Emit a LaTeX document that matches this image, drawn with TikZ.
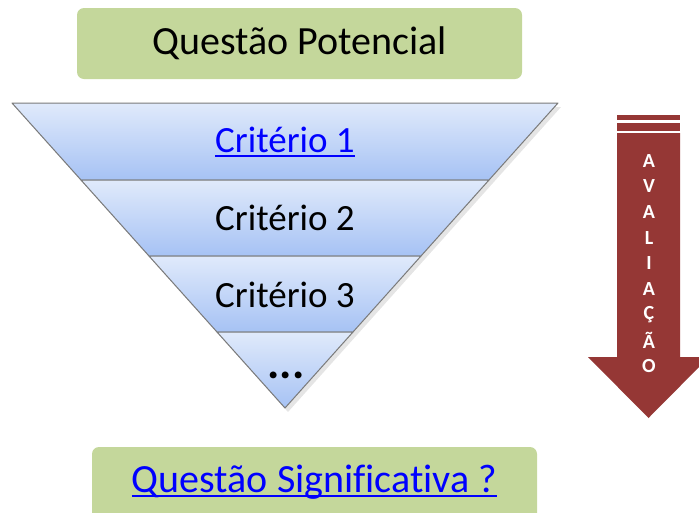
\documentclass[tikz,border=0pt]{standalone}
\usepackage{fontspec}
\setmainfont{Carlito}[Ligatures=NoCommon]
\definecolor{boxgreen}{HTML}{C4D79B}
\definecolor{bandtop}{HTML}{E0EAFB}
\definecolor{bandbot}{HTML}{A6C2F4}
\definecolor{bandline}{HTML}{7A7A7A}
\definecolor{linkblue}{HTML}{0000FF}
\definecolor{arrowred}{HTML}{953735}
\newcommand\myul[1]{\leavevmode\setbox0=\hbox{#1}\rlap{\rule[-4.5pt]{\wd0}{2pt}}\box0}
\tikzset{
  greenbox/.style={fill=boxgreen, draw=none, rounded corners=7pt},
  band/.style={top color=bandtop, bottom color=bandbot, draw=bandline, line width=1pt, line join=round},
  bigtext/.style={font=\fontsize{37}{40}\selectfont, inner sep=0pt},
  boxtext/.style={font=\fontsize{40}{44}\selectfont, inner sep=0pt},
  linktext/.style={text=linkblue},
  arrowletter/.style={font=\fontsize{20}{22}\selectfont\bfseries, text=white, inner sep=0pt}
}
\begin{document}
\begin{tikzpicture}[x=1pt,y=-1pt]
\useasboundingbox (0,0) rectangle (699,512);
\clip (0,0) rectangle (699,512);
% top box
\fill[greenbox] (77,8) rectangle (522,79);
\node[boxtext] (top) at (299.5,43) {Questão Potencial};
% shadow of triangle
\fill[black, opacity=0.10] (15,107) -- (561,107) -- (288,412) -- cycle;
% bands
\path[band] (12,103) -- (558,103) -- (489,180) -- (81,180) -- cycle;
\path[band] (81,180) -- (489,180) -- (421,256) -- (149,256) -- cycle;
\path[band] (149,256) -- (421,256) -- (353,332) -- (217,332) -- cycle;
\path[band] (217,332) -- (353,332) -- (285,408) -- cycle;
\node[bigtext, linktext] (c1) at (285,142) {\myul{Critério 1}};
\node[bigtext] (c2) at (285,218) {Critério 2};
\node[bigtext] (c3) at (285,295) {Critério 3};
\node[font=\fontsize{46}{48}\selectfont\bfseries, inner sep=0pt, anchor=base] (dots) at (286,378) {...};
% arrow
\fill[arrowred] (617,115) rectangle (680,120);
\fill[arrowred] (617,123) rectangle (680,131);
\fill[arrowred] (617,133) -- (680,133) -- (680,357) -- (709,357) -- (648.5,418) -- (588,357) -- (617,357) -- cycle;
\foreach \l [count=\i] in {A,V,A,L,I,A,Ç,Ã,O}{
  \node[arrowletter] (l\i) at (649,{135+25.7*\i}) {\l};
}
% bottom box
\fill[greenbox] (92,447) rectangle (537,530);
\node[boxtext, linktext] (bottom) at (314.5,482) {\myul{Questão Significativa ?}};
\end{tikzpicture}
\end{document}
